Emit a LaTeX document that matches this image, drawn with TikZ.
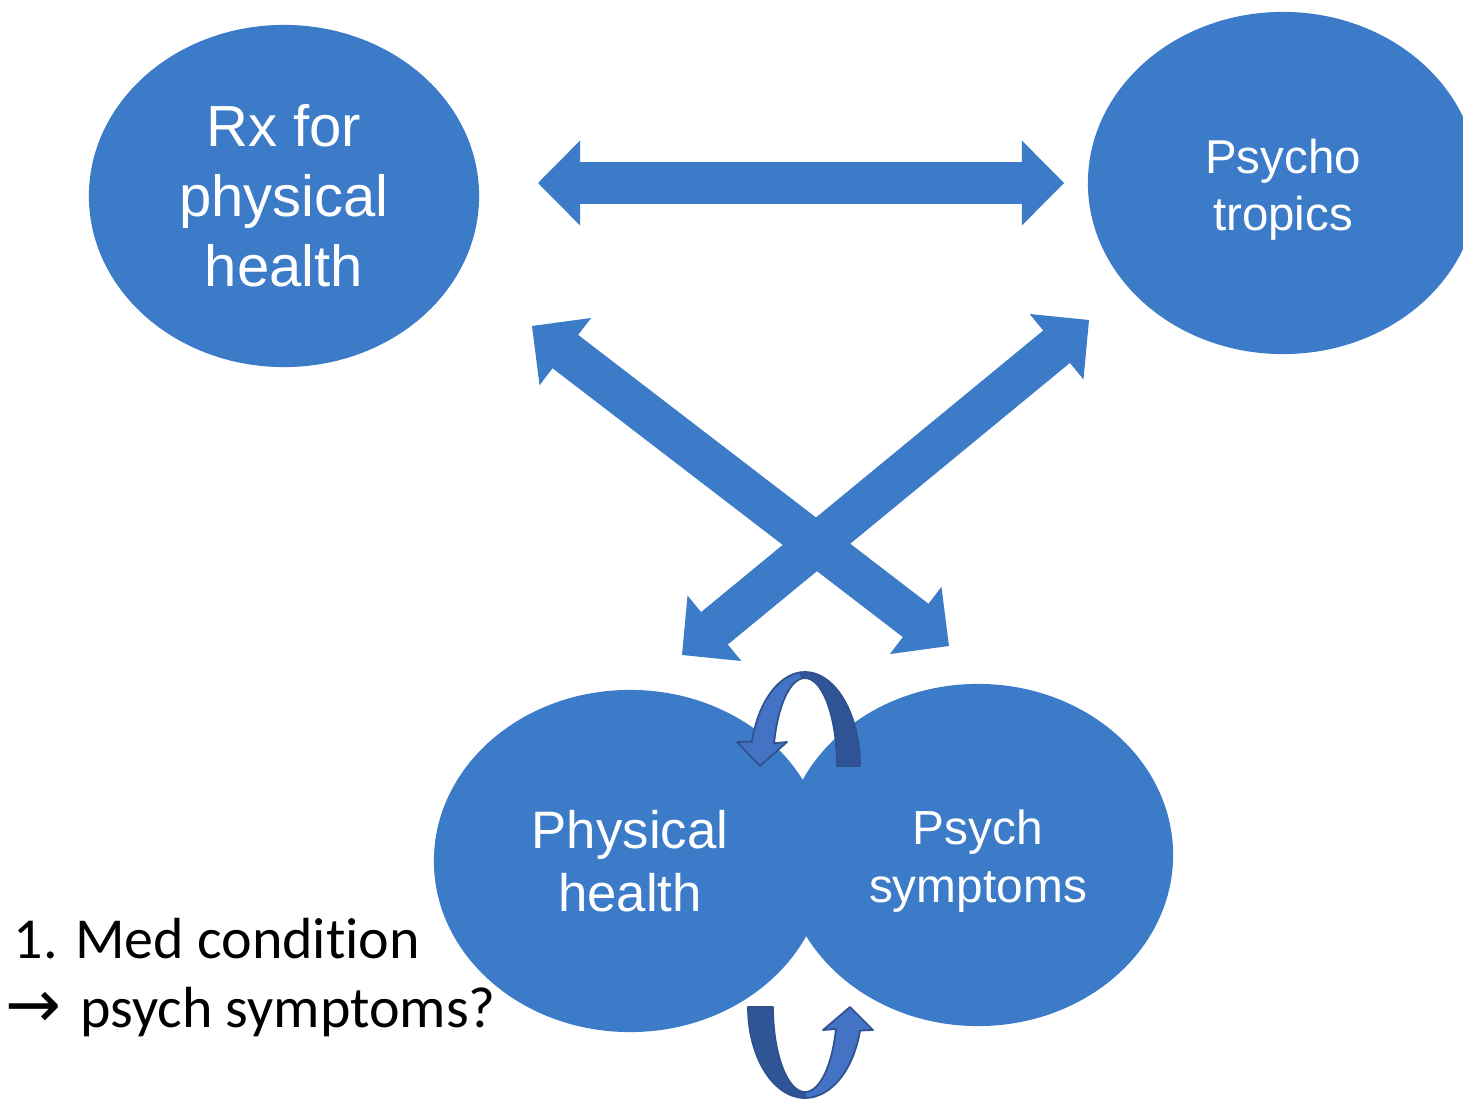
\documentclass[tikz,border=0pt]{standalone}
\usepackage{fontspec}
\setmainfont{Liberation Sans}
\newfontfamily\calibri{Carlito}[Ligatures=NoCommon]
\newfontfamily\dejavu{DejaVu Sans}
\usetikzlibrary{shapes.geometric,arrows.meta}
\definecolor{bubbleblue}{HTML}{3B7BC8}
\definecolor{loopdark}{HTML}{2F5597}
\definecolor{looplight}{HTML}{4472C4}
\definecolor{loopline}{HTML}{2F528F}

\begin{document}
\begin{tikzpicture}[x=0.01cm,y=-0.01cm,
  bubble/.style={ellipse,fill=bubbleblue,text=white,inner sep=0pt,align=center,
    minimum width=3.9cm,minimum height=3.42cm},
  link/.style={draw=bubbleblue,line width=0.42cm,
    >={Triangle[length=0.42cm,width=0.84cm,line width=1pt]},<->},
  cycarrow/.style={draw=loopline,line width=0.5pt,line join=round}]
\useasboundingbox (0,0) rectangle (1463,1100);
\clip (0,0) rectangle (1463,1100);

% the four bubbles
\node[bubble,font=\fontsize{16.5}{19.9}\selectfont] (rx) at (284,196) {Rx for\\physical\\health};
\node[bubble,font=\fontsize{13.5}{16.2}\selectfont] (psy) at (1283,183) {\rule{0pt}{13.7pt}Psycho\\tropics};
\node[bubble,minimum width=3.92cm,font=\fontsize{15}{17.9}\selectfont] (phys) at (630,861) {Physical\\health};
\node[bubble,font=\fontsize{13.6}{16.5}\selectfont] (symp) at (978,855) {\rule{0pt}{13.1pt}Psych\\symptoms};

% arrow ends
\coordinate (rxE) at (538,183);
\coordinate (psyW) at (1064,183);
\coordinate (rxS) at (532,326);
\coordinate (sympN) at (949,646);
\coordinate (psyS) at (1089,320);
\coordinate (physN) at (682,655);

\draw[link] (rxE) -- (psyW);
\draw[link] (rxS) -- (sympN);
\draw[link] (psyS) -- (physN);

% circular arrows between the two bottom bubbles
\begin{scope}[shift={(805,766)}]
  \filldraw[cycarrow,fill=loopdark] (0:55 and 94) arc[start angle=0,end angle=-95,x radius=55,y radius=94]
    -- (-95:32 and 88) arc[start angle=-95,end angle=0,x radius=32,y radius=88] -- cycle;
  \filldraw[cycarrow,fill=looplight] (-95:55 and 94) arc[start angle=-95,end angle=-165,x radius=55,y radius=94]
    -- (-68,-24) -- (-45,0) -- (-18,-24)
    -- (-165:32 and 88) arc[start angle=-165,end angle=-95,x radius=32,y radius=88] -- cycle;
\end{scope}
\begin{scope}[shift={(805,1007)}]
  \filldraw[cycarrow,fill=loopdark] (180:57 and 91) arc[start angle=180,end angle=90,x radius=57,y radius=91]
    -- (90:32 and 85) arc[start angle=90,end angle=180,x radius=32,y radius=85] -- cycle;
  \filldraw[cycarrow,fill=looplight] (90:57 and 91) arc[start angle=90,end angle=15,x radius=57,y radius=91]
    -- (68,23) -- (45,0) -- (18,23)
    -- (15:32 and 85) arc[start angle=15,end angle=90,x radius=32,y radius=85] -- cycle;
\end{scope}

\node[anchor=north west,inner sep=0pt,align=left,font=\calibri\fontsize{16.5}{19.9}\selectfont]
  (cond) at (13,917) {1. Med condition\\\hspace*{-2.2pt}{\dejavu\fontsize{19}{19.9}\selectfont →}\hspace{1.5pt} psych symptoms?};
\end{tikzpicture}
\end{document}
